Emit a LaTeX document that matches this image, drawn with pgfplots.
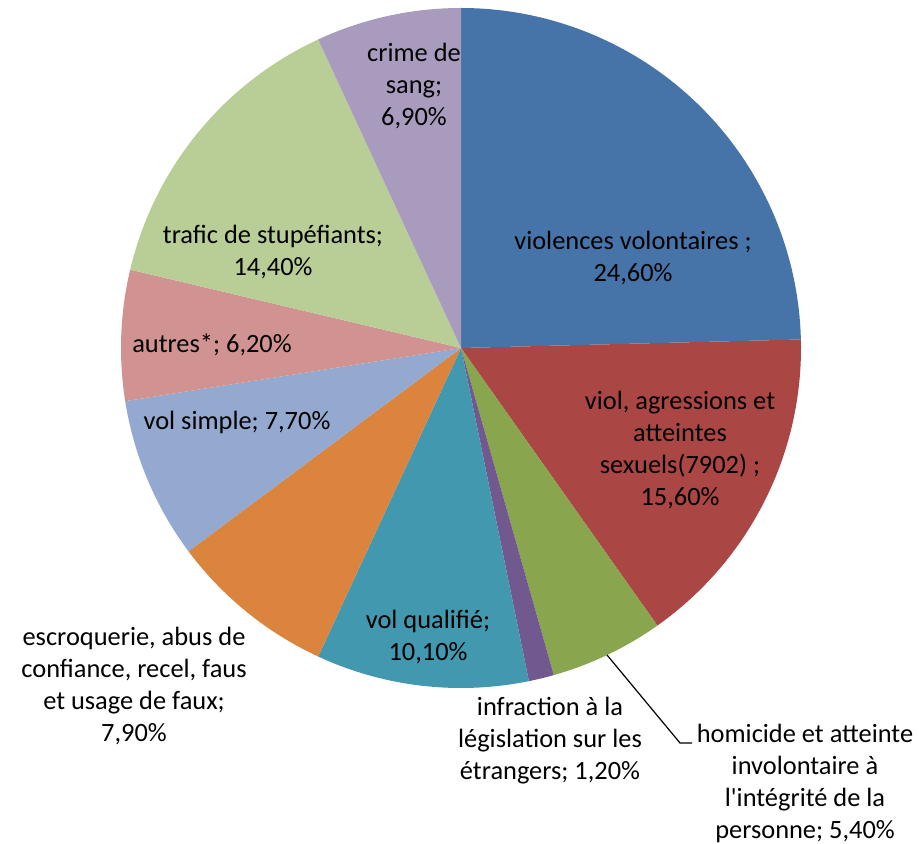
\documentclass[border=0pt]{standalone}
\usepackage{pgfplots}
\pgfplotsset{compat=1.18}
\usepackage{fontspec}
\setmainfont{Carlito}[Ligatures=TeXOff]

\definecolor{cBlue}{HTML}{4674A8}
\definecolor{cRed}{HTML}{AA4644}
\definecolor{cGreen}{HTML}{89A54E}
\definecolor{cPurple}{HTML}{71588F}
\definecolor{cTeal}{HTML}{4198AF}
\definecolor{cOrange}{HTML}{DB843D}
\definecolor{cLBlue}{HTML}{93A9CF}
\definecolor{cPink}{HTML}{D19392}
\definecolor{cLGreen}{HTML}{B9CD96}
\definecolor{cLav}{HTML}{A99BBD}

\tikzset{lbl/.style={font=\fontsize{13.2}{16}\selectfont, align=center, text=black, inner sep=0pt}}

% pie centre (461,496), radius 340, in pixel units of the 919x844 picture
% #1 = cumulative share before the slice, #2 = share (%), #3 = colour
\newcommand{\slice}[3]{%
  \addplot[fill=#3, draw=none, domain={90-3.6*(#1+#2)}:{90-3.6*(#1)}, samples=90]
    ({461+340*cos(x)},{496+340*sin(x)}) -- (axis cs:461,496) -- cycle;
}

\begin{document}
\begin{tikzpicture}
\begin{axis}[
    scale only axis,
    width=459.5pt, height=422pt,
    xmin=0, xmax=919, ymin=0, ymax=844,
    hide axis,
    clip=false,
]
\path (rel axis cs:0,0) rectangle (rel axis cs:1,1);
\slice{0}{24.6}{cBlue}
\slice{24.6}{15.6}{cRed}
\slice{40.2}{5.4}{cGreen}
\slice{45.6}{1.2}{cPurple}
\slice{46.8}{10.1}{cTeal}
\slice{56.9}{7.9}{cOrange}
\slice{64.8}{7.7}{cLBlue}
\slice{72.5}{6.2}{cPink}
\slice{78.7}{14.4}{cLGreen}
\slice{93.1}{6.9}{cLav}

\draw[black, line width=0.6pt] (axis cs:607,189) -- (axis cs:680,101) -- (axis cs:692,101);

\node[lbl] at (axis cs:633,586) {violences volontaires ;\\24,60\%};
\node[lbl] at (axis cs:680,394) {viol, agressions et\\atteintes\\sexuels(7902) ;\\15,60\%};
\node[lbl] at (axis cs:805,61) {homicide et atteinte\\involontaire à\\l'intégrité de la\\personne; 5,40\%};
\node[lbl] at (axis cs:550,103.5) {infraction à la\\législation sur les\\étrangers; 1,20\%};
\node[lbl] at (axis cs:428,207) {vol qualifié;\\10,10\%};
\node[lbl] at (axis cs:134,158) {escroquerie, abus de\\confiance, recel, faus\\et usage de faux;\\7,90\%};
\node[lbl] at (axis cs:237,422) {vol simple; 7,70\%};
\node[lbl] at (axis cs:212,499) {autres*; 6,20\%};
\node[lbl] at (axis cs:273,592) {trafic de stupéfiants;\\14,40\%};
\node[lbl] at (axis cs:414,758) {crime de\\sang;\\6,90\%};
\end{axis}
\end{tikzpicture}
\end{document}
